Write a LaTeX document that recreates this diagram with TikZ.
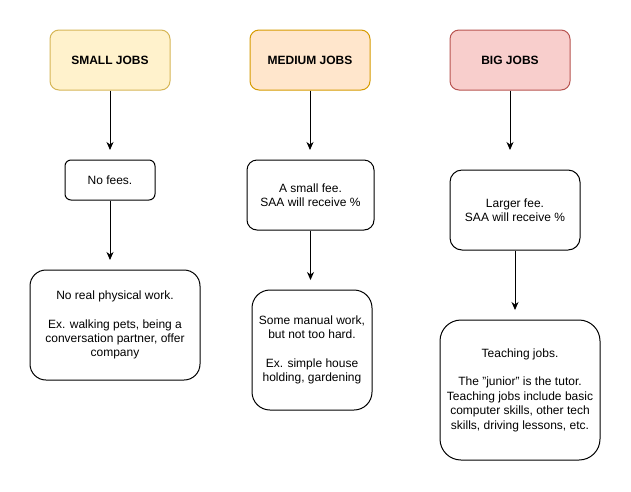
\documentclass[tikz,border=0pt]{standalone}
\usepackage{fontspec}
\setmainfont{Liberation Sans}
\usetikzlibrary{arrows.meta}
\definecolor{yfill}{HTML}{FFF2CC}
\definecolor{ystroke}{HTML}{D6B656}
\definecolor{ofill}{HTML}{FFE6CC}
\definecolor{ostroke}{HTML}{D79B00}
\definecolor{rfill}{HTML}{F8CECC}
\definecolor{rstroke}{HTML}{B85450}
\begin{document}
\begin{tikzpicture}[x=1pt,y=-1pt,
  box/.style={draw, line width=1pt, align=center, inner sep=0pt, font=\fontsize{12}{14.4}\selectfont},
  head/.style={box, font=\bfseries\fontsize{12}{14.4}\selectfont, minimum width=120pt, minimum height=60pt, rounded corners=9pt},
  arr/.style={line width=1pt, -{Stealth[length=8pt,width=7pt,inset=2.5pt]}}]
\useasboundingbox (0,0) rectangle (631,491);
\fill[white] (0,0) rectangle (631,491);

\node[head, fill=yfill, draw=ystroke] (s1) at (110,60) {SMALL JOBS};
\node[head, fill=ofill, draw=ostroke] (m1) at (310,60) {MEDIUM JOBS};
\node[head, fill=rfill, draw=rstroke] (b1) at (510,60) {BIG JOBS};

\node[box, minimum width=90pt, minimum height=40pt, rounded corners=6pt] (s2) at (110,180) {No fees.};
\node[box, minimum width=127pt, minimum height=70pt, rounded corners=10pt] (m2) at (310.5,195) {A small fee.\\SAA will receive \%};
\node[box, minimum width=130pt, minimum height=80pt, rounded corners=12pt] (b2) at (515,210) {Larger fee.\\SAA will receive \%};

\node[box, minimum width=170pt, minimum height=110pt, rounded corners=16pt] (s3) at (115,325) {No real physical work.\\[14.4pt]Ex. walking pets, being a\\conversation partner, offer\\company};
\node[box, minimum width=120pt, minimum height=120pt, rounded corners=18pt] (m3) at (312,350) {Some manual work,\\but not too hard.\\[14.4pt]Ex. simple house\\holding, gardening};
\node[box, minimum width=160pt, minimum height=140pt, rounded corners=21pt] (b3) at (520,390) {Teaching jobs.\\[14.4pt]The "junior" is the tutor.\\Teaching jobs include basic\\computer skills, other tech\\skills, driving lessons, etc.};

\coordinate (s1e) at (110,150);
\coordinate (m1e) at (310,150);
\coordinate (b1e) at (510,150);
\coordinate (s2e) at (110,260);
\coordinate (m2e) at (310.5,280);
\coordinate (b2e) at (515,310);

\draw[arr] (s1.south) -- (s1e);
\draw[arr] (m1.south) -- (m1e);
\draw[arr] (b1.south) -- (b1e);
\draw[arr] (s2.south) -- (s2e);
\draw[arr] (m2.south) -- (m2e);
\draw[arr] (b2.south) -- (b2e);
\end{tikzpicture}
\end{document}
